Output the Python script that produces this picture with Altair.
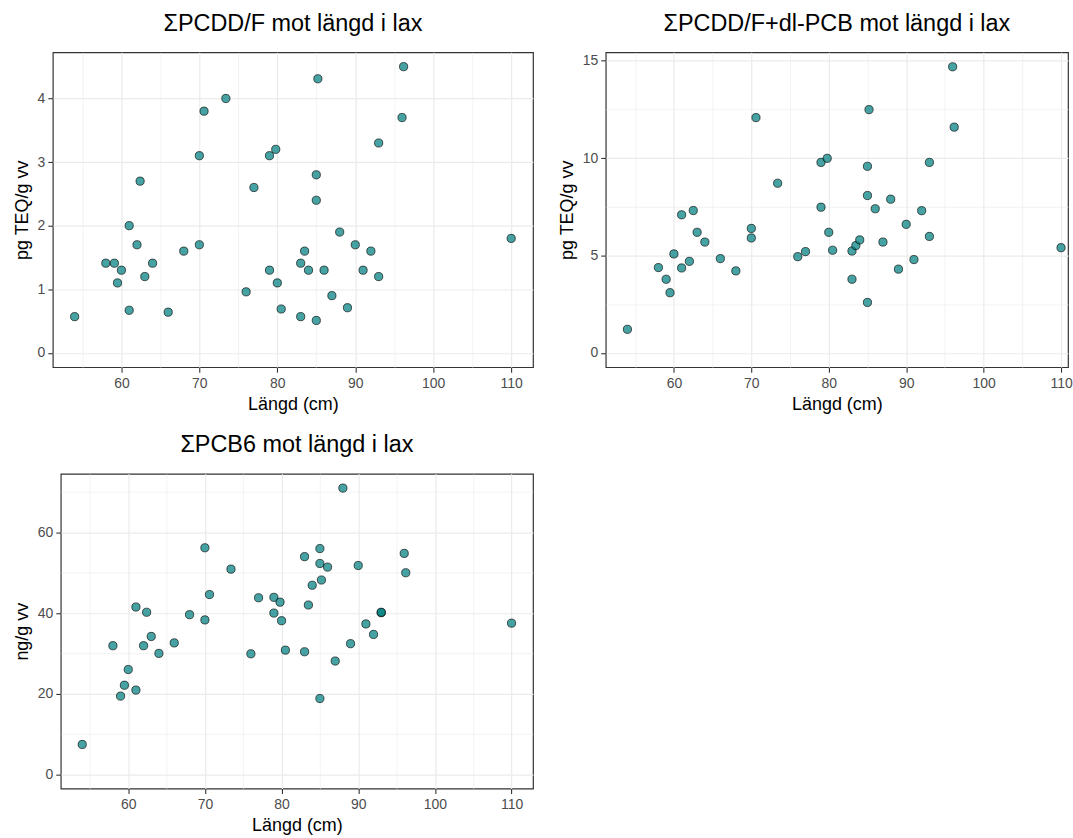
import altair as alt
import pandas as pd

FONT = "Liberation Sans"

# Panel 1: ΣPCDD/F
len_dioxin = [54.0, 58.0, 59.1, 60.0, 59.5, 61.0, 61.0, 62.0, 62.4, 63.0, 64.0, 66.0, 68.0, 70.0, 70.0, 70.6,
              73.4, 76.0, 77.0, 79.0, 79.0, 79.8, 80.0, 80.5, 83.0, 83.0, 83.5, 84.0, 85.0, 85.0, 85.0, 85.2,
              86.0, 87.0, 88.0, 89.0, 90.0, 91.0, 92.0, 93.0, 93.0, 96.0, 96.2, 110.0]
val_dioxin = [0.57, 1.41, 1.41, 1.30, 1.10, 2.00, 0.67, 1.70, 2.70, 1.20, 1.41, 0.64, 1.60, 1.70, 3.10, 3.80,
              4.00, 0.96, 2.60, 3.10, 1.30, 3.20, 1.10, 0.69, 1.41, 0.57, 1.60, 1.30, 2.80, 2.40, 0.51, 4.31,
              1.30, 0.90, 1.90, 0.71, 1.70, 1.30, 1.60, 3.30, 1.20, 3.70, 4.50, 1.80]

# Panel 2: ΣPCDD/F+dl-PCB
len_teq = [54.0, 58.0, 59.0, 59.5, 60.0, 61.0, 61.0, 62.0, 62.5, 63.0, 64.0, 66.0, 68.0, 70.0, 70.0, 70.6,
           73.4, 76.0, 77.0, 79.0, 79.0, 79.8, 80.0, 80.5, 83.0, 83.0, 83.5, 84.0, 85.0, 85.0, 85.0, 85.2,
           86.0, 87.0, 88.0, 89.0, 90.0, 91.0, 92.0, 93.0, 93.0, 96.0, 96.2, 110.0]
val_teq = [1.21, 4.38, 3.78, 3.09, 5.08, 7.09, 4.36, 4.70, 7.31, 6.19, 5.69, 4.84, 4.21, 6.39, 5.90, 12.08,
           8.71, 4.94, 5.20, 9.78, 7.48, 9.99, 6.19, 5.27, 5.23, 3.78, 5.51, 5.80, 9.58, 8.08, 2.59, 12.49,
           7.40, 5.69, 7.89, 4.30, 6.60, 4.79, 7.30, 9.78, 5.98, 14.69, 11.59, 5.40]

# Panel 3: ΣPCB6
len_pcb = [54.0, 58.0, 59.0, 59.5, 60.0, 61.0, 61.0, 62.0, 62.4, 63.0, 64.0, 66.0, 68.0, 70.0, 70.0, 70.6,
           73.4, 76.0, 77.0, 79.0, 79.0, 79.8, 80.0, 80.5, 83.0, 83.0, 83.5, 84.0, 85.0, 85.0, 85.0, 85.2,
           86.0, 87.0, 88.0, 89.0, 90.0, 91.0, 92.0, 93.0, 93.0, 96.0, 96.2, 110.0]
val_pcb = [7.4, 31.9, 19.4, 22.1, 26.0, 41.5, 20.9, 31.9, 40.2, 34.2, 30.0, 32.6, 39.6, 56.2, 38.3, 44.6,
           50.9, 29.9, 43.8, 43.9, 40.0, 42.7, 38.1, 30.8, 54.0, 30.4, 42.0, 46.9, 56.0, 52.3, 18.8, 48.2,
           51.4, 28.1, 71.0, 32.4, 51.8, 37.3, 34.7, 40.1, 40.2, 54.8, 50.0, 37.5]

x_grid = [55, 60, 65, 70, 75, 80, 85, 90, 95, 100, 105, 110]


def axis(values, major, title, **kw):
    test = f"abs(datum.value / {major} - round(datum.value / {major})) < 1e-6"
    return alt.Axis(
        values=values,
        title=title,
        format="d",
        labelExpr=f"{test} ? datum.label : ''",
        gridWidth={"condition": {"test": test, "value": 1.2}, "value": 0.6},
        tickOpacity={"condition": {"test": test, "value": 1}, "value": 0},
        labelOverlap=False,
        labelFlush=False,
        **kw,
    )


def panel(xs, ys, title, ytitle, xdom, ydom, yvals, ymajor, width, height):
    df = pd.DataFrame({"x": xs, "y": ys})
    return alt.Chart(df, title=alt.Title(title, anchor="middle", fontSize=23.5, font=FONT,
                                         fontWeight="normal", offset=17,
                                         color="black")).mark_circle(
        size=68, fill="#008080", fillOpacity=0.72, stroke="black", strokeOpacity=0.8,
        strokeWidth=0.8, opacity=1
    ).encode(
        x=alt.X("x:Q", scale=alt.Scale(domain=xdom, nice=False, zero=False),
                axis=axis(x_grid, 10, "Längd (cm)", labelPadding=4, titlePadding=5)),
        y=alt.Y("y:Q", scale=alt.Scale(domain=ydom, nice=False, zero=False),
                axis=axis(yvals, ymajor, ytitle, labelPadding=3, titlePadding=6)),
    ).properties(width=width, height=height, view=alt.ViewBackground(stroke="#333333", strokeWidth=1.2))


def spacer():
    # invisible 1px cell so that each row is laid out flush from its own left edge
    return alt.Chart(pd.DataFrame({"v": [0]})).mark_point(opacity=0).encode(
        x=alt.value(0), y=alt.value(0)
    ).properties(width=1, height=1, view=alt.ViewBackground(strokeOpacity=0))


p1 = panel(len_dioxin, val_dioxin, "ΣPCDD/F mot längd i lax", "pg TEQ/g vv",
           [51.2, 112.8], [-0.225, 4.725], [i * 0.5 for i in range(10)], 1, 482, 316)
p2 = panel(len_teq, val_teq, "ΣPCDD/F+dl-PCB mot längd i lax", "pg TEQ/g vv",
           [51.2, 110.9], [-0.735, 15.43], [i * 2.5 for i in range(7)], 5, 464, 316)
p3 = panel(len_pcb, val_pcb, "ΣPCB6 mot längd i lax", "ng/g vv",
           [51.2, 112.8], [-3.55, 74.55], [i * 10 for i in range(8)], 20, 474, 316)

row1 = alt.hconcat(alt.hconcat(spacer(), p1, spacing=0), p2, spacing=23)
row2 = alt.hconcat(spacer(), p3, spacing=0)

chart = alt.vconcat(row1, row2, spacing=18).properties(
    padding={"left": 6, "top": 9, "right": 0, "bottom": 0},
    background="white",
).configure_axis(
    labelFont=FONT, labelFontSize=14, labelColor="#4d4d4d",
    titleFont=FONT, titleFontSize=18, titleFontWeight="normal", titleColor="black",
    tickColor="#333333", tickSize=5, tickWidth=1.1,
    domain=False, gridColor="#ebebeb",
)

chart.save("out.html", embed_options={"renderer": "svg", "actions": False})
